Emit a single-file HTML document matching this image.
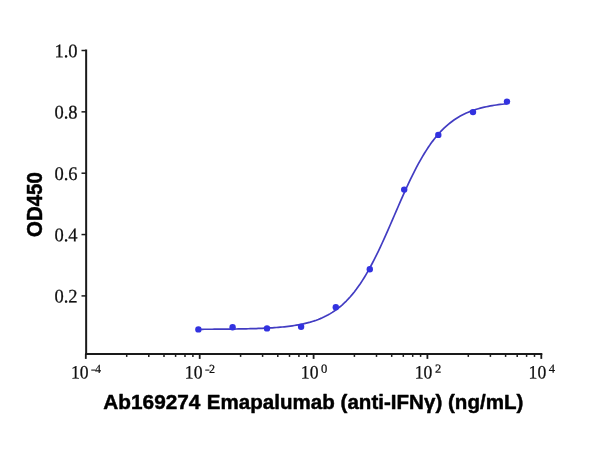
<!DOCTYPE html>
<html><head><meta charset="utf-8"><title>chart</title>
<style>
html,body{margin:0;padding:0;background:#fff;}
body{width:600px;height:450px;overflow:hidden;}
svg{display:block;}
.t{font-family:"Liberation Serif",serif;font-size:18px;fill:#111;stroke:#111;stroke-width:0.25px;}
.ty{font-family:"Liberation Serif",serif;font-size:18.5px;fill:#111;stroke:#111;stroke-width:0.25px;}
.e{font-family:"Liberation Serif",serif;font-size:13px;fill:#111;stroke:#111;stroke-width:0.25px;}
.b{font-family:"Liberation Sans",sans-serif;font-weight:bold;font-size:20px;fill:#000;}
</style></head><body>
<svg width="600" height="450" viewBox="0 0 600 450" style="will-change:transform">
<rect width="600" height="450" fill="#ffffff"/>
<g stroke="#1a1a1a" fill="none">
<line x1="86.15" y1="49.6" x2="86.15" y2="355.05" stroke-width="2"/>
<line x1="85.15" y1="354.05" x2="542.3199999999999" y2="354.05" stroke-width="2"/>
<line x1="81.5" y1="50.50" x2="86.15" y2="50.50" stroke-width="1.5"/>
<line x1="81.5" y1="111.85" x2="86.15" y2="111.85" stroke-width="1.5"/>
<line x1="81.5" y1="173.20" x2="86.15" y2="173.20" stroke-width="1.5"/>
<line x1="81.5" y1="234.55" x2="86.15" y2="234.55" stroke-width="1.5"/>
<line x1="81.5" y1="295.90" x2="86.15" y2="295.90" stroke-width="1.5"/>
<line x1="85.8" y1="354.05" x2="85.8" y2="358.9" stroke-width="1.8"/>
<line x1="126.7" y1="354.05" x2="126.7" y2="356.9" stroke-width="1.5"/>
<line x1="148.8" y1="354.05" x2="148.8" y2="356.9" stroke-width="1.5"/>
<line x1="164.0" y1="354.05" x2="164.0" y2="356.9" stroke-width="1.5"/>
<line x1="175.6" y1="354.05" x2="175.6" y2="356.9" stroke-width="1.5"/>
<line x1="185.0" y1="354.05" x2="185.0" y2="356.9" stroke-width="1.5"/>
<line x1="192.9" y1="354.05" x2="192.9" y2="356.9" stroke-width="1.5"/>
<line x1="199.7" y1="354.05" x2="199.7" y2="358.9" stroke-width="1.8"/>
<line x1="240.6" y1="354.05" x2="240.6" y2="356.9" stroke-width="1.5"/>
<line x1="262.6" y1="354.05" x2="262.6" y2="356.9" stroke-width="1.5"/>
<line x1="277.8" y1="354.05" x2="277.8" y2="356.9" stroke-width="1.5"/>
<line x1="289.5" y1="354.05" x2="289.5" y2="356.9" stroke-width="1.5"/>
<line x1="298.9" y1="354.05" x2="298.9" y2="356.9" stroke-width="1.5"/>
<line x1="306.8" y1="354.05" x2="306.8" y2="356.9" stroke-width="1.5"/>
<line x1="313.6" y1="354.05" x2="313.6" y2="358.9" stroke-width="1.8"/>
<line x1="354.4" y1="354.05" x2="354.4" y2="356.9" stroke-width="1.5"/>
<line x1="376.5" y1="354.05" x2="376.5" y2="356.9" stroke-width="1.5"/>
<line x1="391.7" y1="354.05" x2="391.7" y2="356.9" stroke-width="1.5"/>
<line x1="403.3" y1="354.05" x2="403.3" y2="356.9" stroke-width="1.5"/>
<line x1="412.7" y1="354.05" x2="412.7" y2="356.9" stroke-width="1.5"/>
<line x1="420.6" y1="354.05" x2="420.6" y2="356.9" stroke-width="1.5"/>
<line x1="427.4" y1="354.05" x2="427.4" y2="358.9" stroke-width="1.8"/>
<line x1="468.3" y1="354.05" x2="468.3" y2="356.9" stroke-width="1.5"/>
<line x1="490.4" y1="354.05" x2="490.4" y2="356.9" stroke-width="1.5"/>
<line x1="505.6" y1="354.05" x2="505.6" y2="356.9" stroke-width="1.5"/>
<line x1="517.2" y1="354.05" x2="517.2" y2="356.9" stroke-width="1.5"/>
<line x1="526.6" y1="354.05" x2="526.6" y2="356.9" stroke-width="1.5"/>
<line x1="534.5" y1="354.05" x2="534.5" y2="356.9" stroke-width="1.5"/>
<line x1="541.3" y1="354.05" x2="541.3" y2="358.9" stroke-width="1.8"/>
</g>
<text class="ty" transform="translate(77.6,57.20) rotate(0.03) scale(1,1.04)" text-anchor="end">1.0</text>
<text class="ty" transform="translate(77.6,118.55) rotate(0.03) scale(1,1.04)" text-anchor="end">0.8</text>
<text class="ty" transform="translate(77.6,179.90) rotate(0.03) scale(1,1.04)" text-anchor="end">0.6</text>
<text class="ty" transform="translate(77.6,241.25) rotate(0.03) scale(1,1.04)" text-anchor="end">0.4</text>
<text class="ty" transform="translate(77.6,302.60) rotate(0.03) scale(1,1.04)" text-anchor="end">0.2</text>
<text class="t" transform="translate(88.6,378.55) rotate(0.03) scale(0.98,1.05)" text-anchor="end">10</text>
<text class="e" transform="translate(91.0,372.9) rotate(0.03) scale(1.08,0.95)">-</text>
<text class="e" transform="translate(95.1,372.9) rotate(0.03) scale(0.93,0.95)">4</text>
<text class="t" transform="translate(202.5,378.55) rotate(0.03) scale(0.98,1.05)" text-anchor="end">10</text>
<text class="e" transform="translate(204.9,372.9) rotate(0.03) scale(1.08,0.95)">-</text>
<text class="e" transform="translate(209.0,372.9) rotate(0.03) scale(0.93,0.95)">2</text>
<text class="t" transform="translate(318.5,378.55) rotate(0.03) scale(0.98,1.05)" text-anchor="end">10</text>
<text class="e" transform="translate(321.1,372.7) rotate(0.03) scale(0.97,0.95)">0</text>
<text class="t" transform="translate(432.3,378.55) rotate(0.03) scale(0.98,1.05)" text-anchor="end">10</text>
<text class="e" transform="translate(434.9,372.7) rotate(0.03) scale(0.97,0.95)">2</text>
<text class="t" transform="translate(546.2,378.55) rotate(0.03) scale(0.98,1.05)" text-anchor="end">10</text>
<text class="e" transform="translate(548.8,372.7) rotate(0.03) scale(0.97,0.95)">4</text>
<g stroke="#000" stroke-width="0.45" stroke-linejoin="round">
<text class="b" transform="translate(103.25,409.1) rotate(0.02) scale(1,1.055)" textLength="97.2" lengthAdjust="spacingAndGlyphs">Ab169274</text>
<text class="b" transform="translate(206.8,409.1) rotate(0.02) scale(1,1.055)" textLength="316.6" lengthAdjust="spacingAndGlyphs">Emapalumab (anti-IFNγ) (ng/mL)</text>
<text class="b" transform="translate(41.8,204.6) rotate(-90) scale(1,1.08)" text-anchor="middle" textLength="64.7" lengthAdjust="spacingAndGlyphs">OD450</text>
</g>
<polyline points="198.3,329.29 200.3,329.29 202.3,329.28 204.3,329.27 206.3,329.26 208.3,329.25 210.3,329.24 212.3,329.23 214.3,329.22 216.3,329.21 218.3,329.19 220.3,329.18 222.3,329.16 224.3,329.15 226.3,329.13 228.3,329.11 230.3,329.08 232.3,329.06 234.3,329.03 236.3,329.00 238.3,328.97 240.3,328.94 242.3,328.90 244.3,328.86 246.3,328.82 248.3,328.77 250.3,328.72 252.3,328.66 254.3,328.60 256.3,328.54 258.3,328.47 260.3,328.39 262.3,328.31 264.3,328.22 266.3,328.12 268.3,328.02 270.3,327.90 272.3,327.78 274.3,327.65 276.3,327.50 278.3,327.35 280.3,327.18 282.3,326.99 284.3,326.79 286.3,326.58 288.3,326.34 290.3,326.09 292.3,325.82 294.3,325.52 296.3,325.20 298.3,324.85 300.3,324.48 302.3,324.08 304.3,323.64 306.3,323.17 308.3,322.66 310.3,322.11 312.3,321.51 314.3,320.87 316.3,320.18 318.3,319.44 320.3,318.64 322.3,317.78 324.3,316.85 326.3,315.85 328.3,314.78 330.3,313.63 332.3,312.40 334.3,311.08 336.3,309.66 338.3,308.15 340.3,306.53 342.3,304.81 344.3,302.97 346.3,301.02 348.3,298.94 350.3,296.73 352.3,294.39 354.3,291.92 356.3,289.31 358.3,286.55 360.3,283.66 362.3,280.61 364.3,277.43 366.3,274.10 368.3,270.63 370.3,267.02 372.3,263.27 374.3,259.39 376.3,255.39 378.3,251.28 380.3,247.06 382.3,242.74 384.3,238.33 386.3,233.86 388.3,229.32 390.3,224.74 392.3,220.13 394.3,215.51 396.3,210.88 398.3,206.27 400.3,201.69 402.3,197.15 404.3,192.67 406.3,188.26 408.3,183.94 410.3,179.71 412.3,175.59 414.3,171.59 416.3,167.70 418.3,163.95 420.3,160.33 422.3,156.86 424.3,153.52 426.3,150.33 428.3,147.28 430.3,144.37 432.3,141.61 434.3,138.99 436.3,136.51 438.3,134.17 440.3,131.96 442.3,129.87 444.3,127.91 446.3,126.07 448.3,124.34 450.3,122.72 452.3,121.20 454.3,119.78 456.3,118.45 458.3,117.22 460.3,116.06 462.3,114.99 464.3,113.99 466.3,113.06 468.3,112.19 470.3,111.39 472.3,110.64 474.3,109.95 476.3,109.31 478.3,108.71 480.3,108.16 482.3,107.65 484.3,107.17 486.3,106.73 488.3,106.33 490.3,105.95 492.3,105.60 494.3,105.28 496.3,104.99 498.3,104.71 500.3,104.46 502.3,104.22 504.3,104.01 506.3,103.81 506.9,103.75" fill="none" stroke="#423cc2" stroke-width="1.7" stroke-linejoin="round" stroke-linecap="round"/>
<circle cx="198.4" cy="329.40000000000003" r="3.2" fill="#3232e0"/>
<circle cx="232.6" cy="327.3" r="3.2" fill="#3232e0"/>
<circle cx="267.0" cy="328.40000000000003" r="3.2" fill="#3232e0"/>
<circle cx="301.1" cy="326.8" r="3.2" fill="#3232e0"/>
<circle cx="335.8" cy="307.2" r="3.2" fill="#3232e0"/>
<circle cx="369.8" cy="269.3" r="3.2" fill="#3232e0"/>
<circle cx="404.20000000000005" cy="189.60000000000002" r="3.2" fill="#3232e0"/>
<circle cx="438.3" cy="134.9" r="3.2" fill="#3232e0"/>
<circle cx="473.0" cy="112.1" r="3.2" fill="#3232e0"/>
<circle cx="507.0" cy="101.6" r="3.2" fill="#3232e0"/>
</svg></body></html>
